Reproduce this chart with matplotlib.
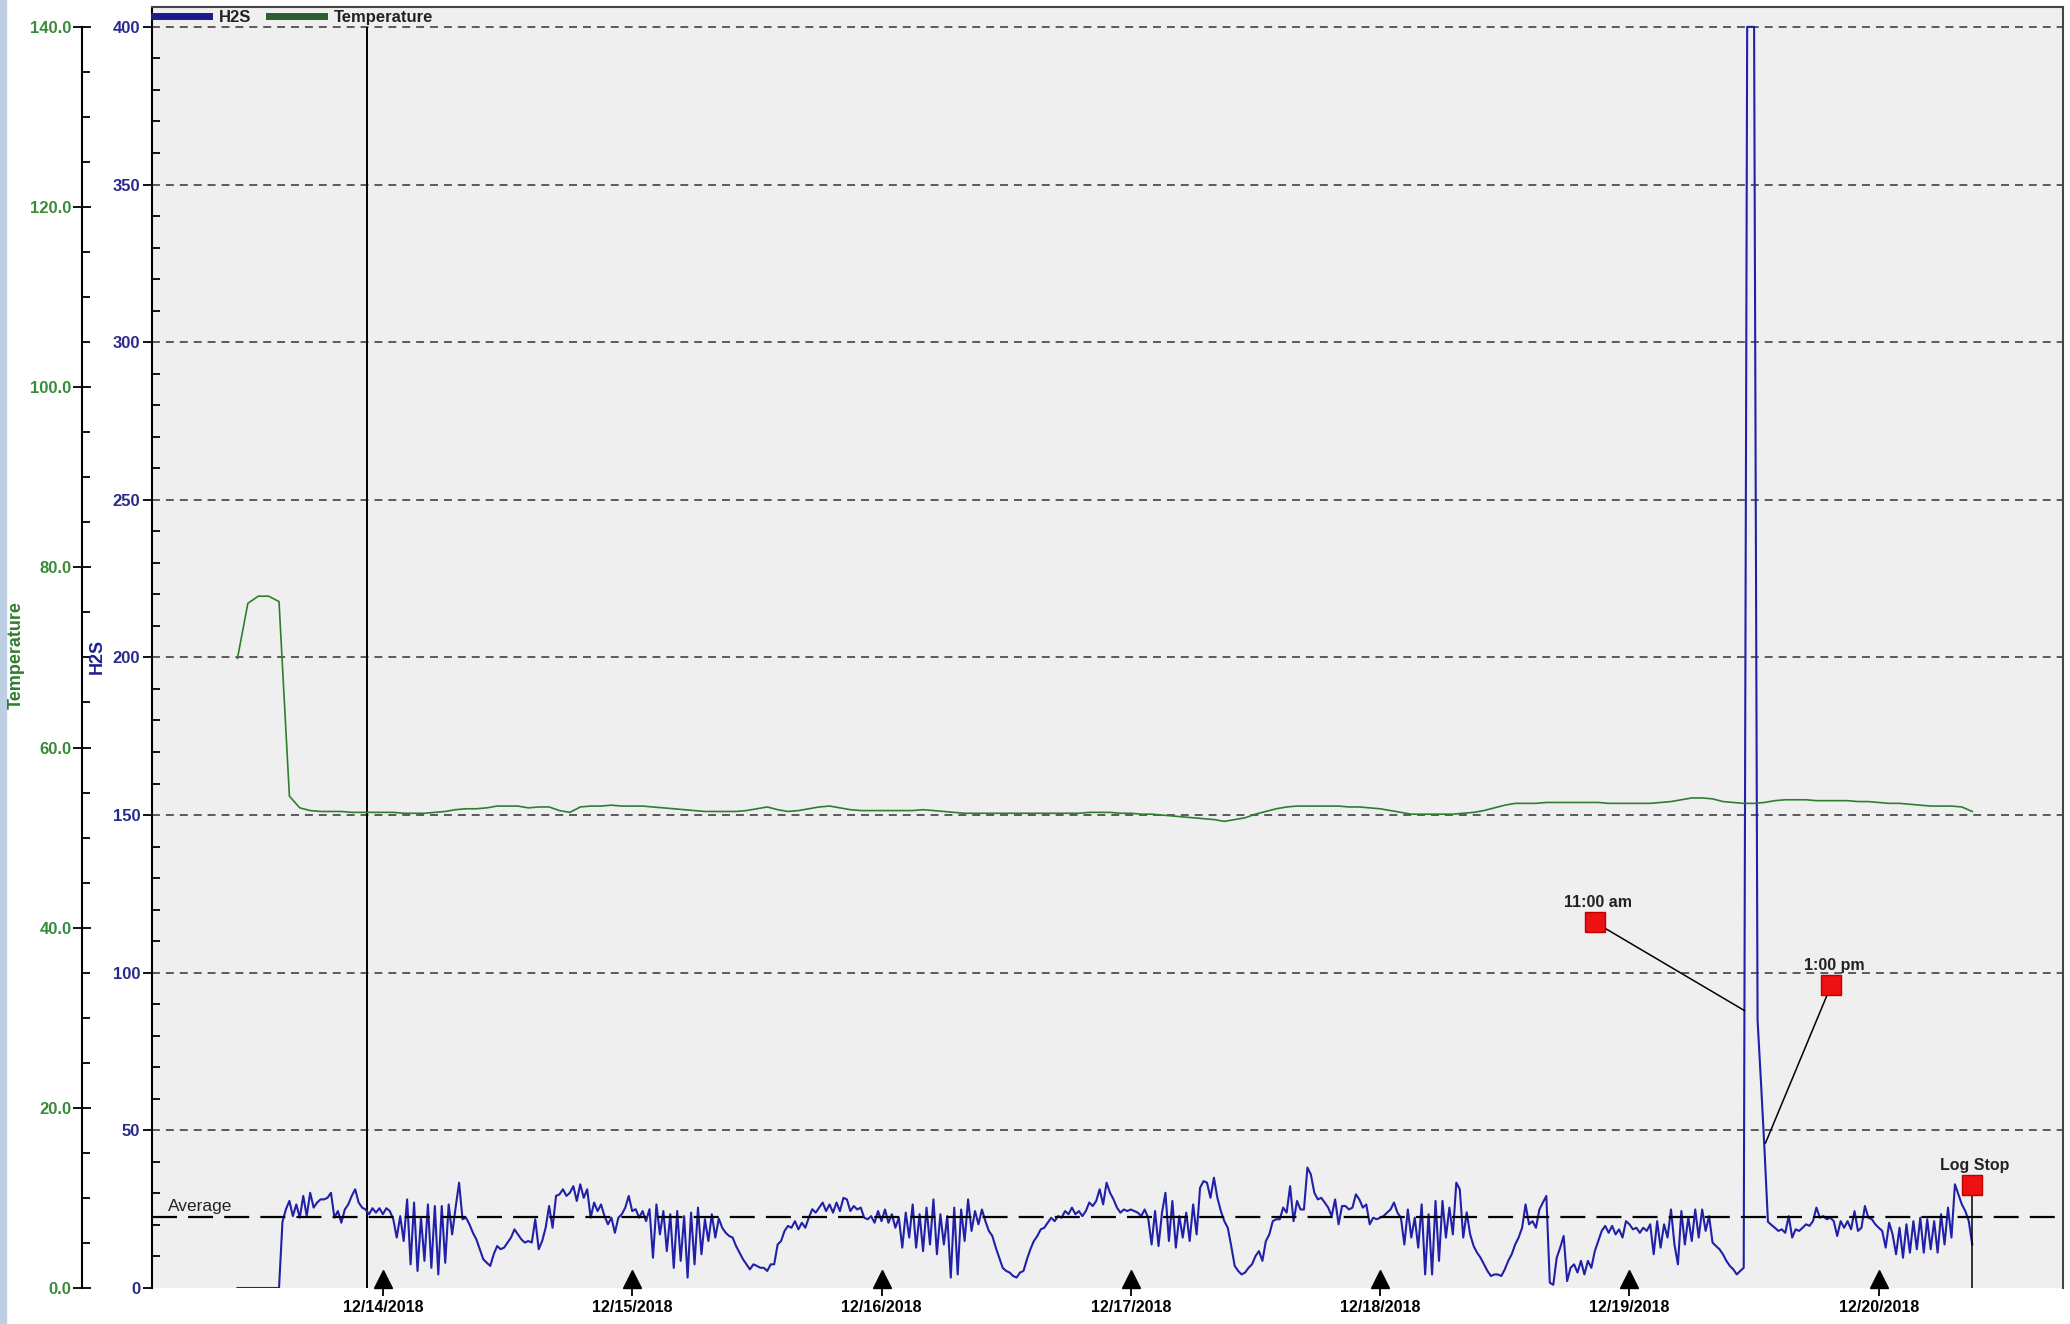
import numpy as np
import pandas as pd
import matplotlib
matplotlib.use("Agg")
import matplotlib.pyplot as plt
import matplotlib.dates as mdates
from matplotlib.lines import Line2D
from matplotlib.patches import Rectangle
from matplotlib.ticker import MultipleLocator, FormatStrFormatter

plt.rcParams['font.family'] = ['Liberation Sans', 'DejaVu Sans']
plt.rcParams['font.weight'] = 'bold'

# H2S readings, one every 20 minutes (12/13 starts at 10:00)
h2s_dec13 = [0, 0, 0, 0, 0, 0, 0, 0, 0, 0, 0, 0, 0,
             21.0, 25.0, 27.6, 22.8, 26.5, 22.3, 29.2, 22.8, 30.2, 25.5, 27.1, 28.1, 28.1, 28.6, 30.2,
             22.3, 24.4, 20.7, 24.9, 26.5, 29.2, 31.3, 27.1, 25.5, 24.9, 23.4, 25.3, 23.9, 25.3]
h2s_dec14 = [23.4, 25.3, 24.4, 21.8, 16.0, 22.8, 14.9, 28.1, 7.5, 27.1,
             5.4, 22.3, 8.6, 26.5, 6.4, 26.0, 4.3, 26.0, 8.0, 26.5,
             17.0, 25.5, 33.4, 21.8, 22.3, 20.2, 17.5, 15.4, 12.3, 9.1,
             8.0, 7.0, 10.7, 13.3, 12.3, 12.8, 14.4, 16.0, 18.6, 17.0,
             15.4, 14.4, 14.9, 14.4, 21.8, 12.3, 14.9, 19.1, 26.0, 19.1,
             29.2, 29.7, 31.3, 29.2, 30.2, 32.3, 27.6, 32.9, 28.6, 31.3,
             22.3, 27.1, 24.4, 26.5, 22.8, 20.2, 22.3, 17.5, 22.3, 23.4,
             25.5, 29.2]
h2s_dec15 = [24.4, 25.0, 22.3, 24.4, 21.2, 25.0, 9.6, 26.5, 17.0, 24.4,
             11.7, 23.4, 6.4, 24.4, 8.6, 22.8, 3.3, 23.9, 7.5, 25.5,
             10.7, 21.8, 14.9, 23.4, 16.0, 22.0, 19.1, 17.5, 16.5, 16.0,
             13.3, 11.2, 9.1, 7.5, 5.9, 7.5, 7.0, 6.4, 6.4, 5.4,
             7.5, 7.5, 13.8, 14.9, 18.1, 19.7, 19.1, 21.2, 18.6, 20.7,
             19.1, 22.3, 25.0, 23.9, 25.5, 27.1, 24.4, 26.5, 23.9, 27.1,
             24.4, 28.6, 28.1, 24.4, 26.0, 24.9, 25.5, 22.3, 21.8, 22.8,
             20.7, 24.4]
h2s_dec16 = [21.2, 24.9, 20.7, 23.4, 19.1, 22.3, 12.8, 23.9, 16.0, 26.5,
             12.8, 23.4, 11.7, 25.5, 13.8, 28.1, 10.7, 23.4, 13.8, 22.8,
             3.3, 25.5, 4.3, 24.9, 14.9, 28.1, 18.1, 24.4, 20.2, 24.9,
             21.2, 18.1, 16.5, 12.8, 9.6, 6.4, 5.4, 4.9, 3.8, 3.3,
             4.9, 5.4, 9.1, 12.3, 14.9, 16.5, 18.6, 19.1, 20.7, 22.3,
             21.2, 22.8, 22.3, 24.4, 23.4, 25.5, 23.4, 24.4, 22.8, 24.4,
             27.1, 26.0, 27.6, 31.3, 26.5, 33.4, 30.2, 28.1, 25.5, 23.9,
             24.9, 24.4]
h2s_dec17 = [24.9, 24.4, 23.9, 22.8, 24.9, 22.3, 13.8, 24.4, 13.3, 23.9,
             30.2, 14.9, 27.6, 12.8, 22.8, 16.0, 23.9, 14.9, 26.5, 17.0,
             31.8, 33.9, 33.4, 28.6, 35.0, 28.6, 24.4, 21.2, 19.1, 13.3,
             7.0, 5.4, 4.3, 4.9, 6.4, 7.5, 10.1, 11.7, 8.6, 14.9,
             17.0, 21.2, 21.8, 21.8, 25.5, 23.9, 32.3, 21.2, 27.6, 24.9,
             24.9, 38.2, 36.0, 30.2, 28.1, 28.6, 27.1, 25.5, 22.8, 28.1,
             20.2, 26.0, 26.0, 24.9, 25.5, 29.7, 28.1, 25.5, 26.5, 20.2,
             22.3, 21.8]
h2s_dec18 = [22.3, 22.8, 23.9, 24.9, 27.1, 23.9, 22.3, 13.8, 24.9, 16.0,
             22.3, 12.8, 26.5, 4.3, 23.4, 4.3, 27.6, 8.6, 27.6, 16.0,
             25.5, 17.0, 33.4, 31.3, 16.0, 24.0, 17.0, 13.3, 11.2, 9.6,
             7.5, 5.4, 3.8, 4.3, 4.3, 3.8, 5.9, 8.6, 10.7, 13.8,
             16.0, 19.1, 26.5, 20.2, 21.2, 19.1, 24.9, 27.1, 29.2, 1.7,
             1.0, 9.6, 12.8, 16.5, 2.2, 6.4, 7.5, 4.9, 8.6, 4.3,
             8.6, 6.4, 11.7, 14.9, 18.1, 19.7, 17.5, 19.7, 17.0, 18.6,
             16.0, 21.2]
h2s_dec19 = [20.2, 18.6, 19.1, 17.5, 19.1, 18.1, 20.2, 10.7, 21.2, 12.8,
             20.2, 16.0, 24.9, 13.8, 7.5, 24.4, 13.8, 22.3, 14.9, 24.9,
             16.0, 24.9, 18.1, 22.8, 14.4, 13.3, 12.3, 10.7, 8.6, 7.0,
             5.9, 4.3, 5.4, 6.4, 400, 400, 400, 85, 65, 44,
             21.0, 20.0, 19.1, 18.1, 18.6, 17.5, 22.8, 16.0, 18.6, 18.1,
             19.1, 20.2, 19.7, 21.2, 25.5, 22.3, 22.8, 21.8, 22.3, 21.2,
             16.5, 21.2, 19.1, 21.2, 18.6, 24.4, 18.1, 19.1, 26.0, 22.3,
             21.8, 20.2]
h2s_dec20 = [19.1, 18.1, 12.8, 20.7, 17.0, 10.7, 19.1, 9.6, 20.2, 11.2,
             21.2, 12.3, 22.3, 11.2, 21.8, 12.3, 21.2, 11.2, 23.4, 13.8,
             25.5, 16.0, 32.9, 29.7, 26.5, 24.4, 21.2, 13.8]

# temperature, hourly (12/13 starts at 10:00)
temp_dec13 = [69.9, 76.0, 76.8, 76.8, 76.2, 54.6, 53.3, 53.0, 52.9, 52.9, 52.9, 52.8, 52.8, 52.8]
temp_dec14 = [52.8, 52.8, 52.7, 52.7, 52.7, 52.8, 52.9, 53.1, 53.2, 53.2, 53.3, 53.5,
              53.5, 53.5, 53.3, 53.4, 53.4, 53.0, 52.8, 53.4, 53.5, 53.5, 53.6, 53.5]
temp_dec15 = [53.5, 53.5, 53.4, 53.3, 53.2, 53.1, 53.0, 52.9, 52.9, 52.9, 52.9, 53.0,
              53.2, 53.4, 53.1, 52.9, 53.0, 53.2, 53.4, 53.5, 53.3, 53.1, 53.0, 53.0]
temp_dec16 = [53.0, 53.0, 53.0, 53.0, 53.1, 53.0, 52.9, 52.8, 52.7, 52.7, 52.7, 52.7,
              52.7, 52.7, 52.7, 52.7, 52.7, 52.7, 52.7, 52.7, 52.8, 52.8, 52.8, 52.7]
temp_dec17 = [52.7, 52.6, 52.6, 52.5, 52.4, 52.3, 52.2, 52.1, 52.0, 51.8, 52.0, 52.2,
              52.6, 52.9, 53.2, 53.4, 53.5, 53.5, 53.5, 53.5, 53.5, 53.4, 53.4, 53.3]
temp_dec18 = [53.2, 53.0, 52.8, 52.6, 52.6, 52.6, 52.6, 52.6, 52.7, 52.8, 53.0, 53.3,
              53.6, 53.8, 53.8, 53.8, 53.9, 53.9, 53.9, 53.9, 53.9, 53.9, 53.8, 53.8]
temp_dec19 = [53.8, 53.8, 53.8, 53.9, 54.0, 54.2, 54.4, 54.4, 54.3, 54.0, 53.9, 53.8,
              53.8, 53.9, 54.1, 54.2, 54.2, 54.2, 54.1, 54.1, 54.1, 54.1, 54.0, 54.0]
temp_dec20 = [53.9, 53.8, 53.8, 53.7, 53.6, 53.5, 53.5, 53.5, 53.4, 52.9]

h2s_average = 22.6
cursor_time = pd.Timestamp("2018-12-13 22:28")

note_labels = ["11:00 am", "1:00 pm", "Log Stop"]
note_times = pd.to_datetime(["2018-12-18 20:40", "2018-12-19 19:25", "2018-12-20 09:00"])
note_values = [116, 96, 32.6]
leader_times = pd.to_datetime(["2018-12-19 11:04", "2018-12-19 13:06", "2018-12-20 09:00"])
leader_values = [88, 46, 0]

h2s = np.concatenate([h2s_dec13, h2s_dec14, h2s_dec15, h2s_dec16,
                      h2s_dec17, h2s_dec18, h2s_dec19, h2s_dec20])
h2s_time = pd.date_range("2018-12-13 10:00", periods=len(h2s), freq="20min")
temp = np.concatenate([temp_dec13, temp_dec14, temp_dec15, temp_dec16,
                       temp_dec17, temp_dec18, temp_dec19, temp_dec20])
temp_time = pd.date_range("2018-12-13 10:00", periods=len(temp), freq="h")
day_ticks = pd.date_range("2018-12-14", "2018-12-20", freq="D")

BLUE = "#2020a8"
BLUE_TXT = "#2a2a8c"
GREEN = "#2f7d2f"
GREEN_TXT = "#3a8a3a"
YTOP = 406.3

fig = plt.figure(figsize=(20.7, 13.24), dpi=100)
fig.add_artist(Rectangle((0, 0), 6 / 2070, 1, transform=fig.transFigure,
                         color="#bfcfe3", zorder=0))
ax = fig.add_axes([0.0734, 0.0272, 0.9232, 0.9675])
ax.set_facecolor("#efefef")
ax.set_xlim(pd.Timestamp("2018-12-13 01:46"), pd.Timestamp("2018-12-20 17:44"))
ax.set_ylim(0, YTOP)

for v in np.arange(50, 401, 50):
    ax.axhline(v, color="#333333", lw=1.1, linestyle=(0, (5.2, 3.9)), zorder=1)

ax.vlines(cursor_time, 0, 400, color="black", lw=1.4, zorder=2)
ax.axhline(h2s_average, color="black", lw=1.6, linestyle=(0, (11.25, 5)), zorder=4)
ax.annotate("Average", (ax.get_xlim()[0], h2s_average), xytext=(11.5, 4),
            textcoords="offset points", fontsize=12.5, fontweight="normal",
            color="#222222", va="baseline", ha="left")

ax.plot(h2s_time, h2s, color=BLUE, lw=1.5, zorder=3)

# annotation markers and leader lines
for lab, t, v, lt, lv in zip(note_labels, note_times, note_values, leader_times, leader_values):
    ax.plot([t, lt], [v, lv], color="black", lw=1.1, zorder=5)
    ax.plot([t], [v], ls="none", marker="s", ms=15, mfc="#ee1111", mec="#c00000",
            mew=1, zorder=6)
    ax.annotate(lab, (t, v), xytext=(2, 11), textcoords="offset points",
                ha="center", va="baseline", fontsize=11.5, color="#222222")

# day markers along the bottom
ax.plot(day_ticks, np.full(len(day_ticks), 2.7), ls="none", marker="^", ms=12.5,
        color="black", clip_on=False, zorder=6)

ax.set_xticks(day_ticks)
ax.xaxis.set_major_formatter(mdates.DateFormatter("%m/%d/%Y"))
ax.tick_params(axis="x", direction="out", length=6, width=1.3, labelsize=11.5,
               pad=3, colors="black")

ax.set_yticks(np.arange(0, 401, 50))
ax.yaxis.set_minor_locator(MultipleLocator(10))
ax.tick_params(axis="y", which="major", direction="out", length=6.5, width=1.3,
               labelsize=12, labelcolor=BLUE_TXT, pad=2)
ax.tick_params(axis="y", which="minor", direction="in", length=6, width=1.3)

ax.spines["bottom"].set_visible(False)
ax.spines["left"].set_linewidth(1.5)
for s in ["top", "right"]:
    ax.spines[s].set_color("#444444")
    ax.spines[s].set_linewidth(1.5)

# temperature axis
ax2 = ax.twinx()
ax2.set_ylim(0, YTOP * 0.35)
ax2.plot(temp_time, temp, color=GREEN, lw=1.2)
ax2.spines["left"].set_position(("axes", -0.0366))
ax2.spines["left"].set_visible(True)
ax2.spines["left"].set_bounds(0, 140)
ax2.spines["left"].set_linewidth(1.5)
for s in ["right", "top", "bottom"]:
    ax2.spines[s].set_visible(False)
ax2.yaxis.set_ticks_position("left")
ax2.set_yticks(np.arange(0, 141, 20))
ax2.yaxis.set_minor_locator(MultipleLocator(5))
ax2.yaxis.set_major_formatter(FormatStrFormatter("%.1f"))
ax2.tick_params(axis="y", which="major", direction="inout", length=13, width=1.3,
                labelsize=12, labelcolor=GREEN_TXT, pad=1)
ax2.tick_params(axis="y", which="minor", direction="in", length=6, width=1.3)

handles = [Line2D([], [], color="#1a1a8c", lw=5), Line2D([], [], color="#2d5e2d", lw=5)]
ax2.legend(handles, ["H2S", "Temperature"], loc="upper left", bbox_to_anchor=(0, 1),
           ncol=2, frameon=False, fontsize=12, handlelength=3.3, handletextpad=0.55,
           columnspacing=1.1, borderaxespad=0, borderpad=0.15,
           labelcolor="#222222")

fig.text(0.0077, 0.505, "Temperature", rotation=90, color=GREEN, fontsize=13,
         ha="center", va="center")
fig.text(0.0469, 0.5045, "H2S", rotation=90, color="#1f1f8f", fontsize=13,
         ha="center", va="center")

fig.savefig("out.png", dpi=100)
